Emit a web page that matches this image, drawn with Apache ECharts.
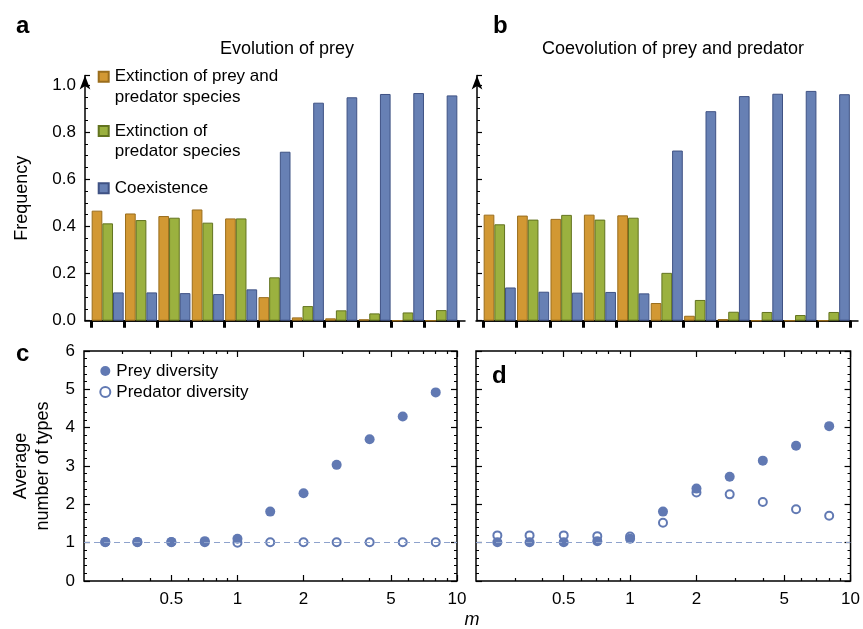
<!DOCTYPE html>
<html>
<head>
<meta charset="utf-8">
<title>Prey and predator evolution</title>
<script src="https://cdn.jsdelivr.net/npm/echarts@6/dist/echarts.min.js"></script>
</head>
<body style="margin:0">
<div id="main" style="width:863px;height:629px"></div>
<script type="text/javascript">
// mutation scale m (x positions, shared by all four panels)
var m = [0.25, 0.35, 0.5, 0.71, 1, 1.41, 2, 2.83, 4, 5.66, 8];
var majorM = [0.5, 1, 2, 5, 10];
var minorM = [0.3, 0.4, 0.6, 0.7, 0.8, 0.9, 3, 4, 6, 7, 8, 9];

// panel a: evolution of prey
var extBothA = [0.467, 0.455, 0.444, 0.472, 0.434, 0.100, 0.014, 0.010, 0.006, 0, 0];
var extPredA = [0.413, 0.427, 0.437, 0.416, 0.434, 0.184, 0.062, 0.044, 0.031, 0.035, 0.045];
var coexA    = [0.120, 0.120, 0.117, 0.113, 0.133, 0.717, 0.925, 0.948, 0.962, 0.966, 0.956];

// panel b: coevolution
var extBothB = [0.450, 0.446, 0.432, 0.450, 0.447, 0.075, 0.021, 0.007, 0, 0, 0];
var extPredB = [0.409, 0.429, 0.449, 0.429, 0.437, 0.203, 0.088, 0.038, 0.037, 0.024, 0.037];
var coexB    = [0.141, 0.123, 0.119, 0.122, 0.116, 0.722, 0.889, 0.953, 0.963, 0.975, 0.961];

// panels c, d: average number of types
var preyC = [1.02, 1.02, 1.02, 1.04, 1.10, 1.81, 2.29, 3.03, 3.70, 4.29, 4.92];
var predC = [1.01, 1.01, 1.01, 1.01, 1.00, 1.01, 1.01, 1.01, 1.01, 1.01, 1.01];
var preyD = [1.01, 1.01, 1.01, 1.04, 1.10, 1.81, 2.41, 2.72, 3.14, 3.53, 4.04];
var predD = [1.19, 1.19, 1.19, 1.17, 1.16, 1.52, 2.31, 2.26, 2.06, 1.87, 1.70];

var FONT = '"Liberation Sans", Arial, Helvetica, sans-serif';
var ORANGE = '#d29833', GREEN = '#9bb13f', BLUE = '#6780b4', PT = '#6179b3';
var NAMES = ['Extinction of prey and\npredator species', 'Extinction of\npredator species', 'Coexistence'];

var myChart = echarts.init(document.getElementById('main'));

function barAxis(grid) {
    return {
        type: 'category', gridIndex: grid, data: m.map(String), boundaryGap: true,
        axisLine: {lineStyle: {color: '#000', width: 1.5}},
        axisTick: {show: true, interval: 0, length: 7, lineStyle: {color: '#000', width: 3}},
        axisLabel: {show: false}, splitLine: {show: false}
    };
}
// plain baseline that runs a little past the bars on both sides
function baseLine(grid) {
    return {
        type: 'value', gridIndex: grid, min: 0, max: 1,
        axisLine: {lineStyle: {color: '#000', width: 1.5}},
        axisTick: {show: false}, axisLabel: {show: false}, splitLine: {show: false}
    };
}
function hiddenY(grid) {
    return {type: 'value', gridIndex: grid, show: false, min: 0, max: 1};
}
function freqAxis(grid, labels) {
    return {
        type: 'value', gridIndex: grid, min: 0, max: 1.04, interval: 0.2, offset: 6,
        axisLine: {show: true, symbol: ['none', 'arrow'], symbolSize: [8, 14], lineStyle: {color: '#000', width: 1.5}},
        axisTick: {show: true, inside: true, length: 5, lineStyle: {color: '#000', width: 1.2}},
        minorTick: {show: true, splitNumber: 4, length: 3, lineStyle: {color: '#000', width: 1}},
        axisLabel: {show: labels, showMaxLabel: false, fontSize: 17, color: '#000', fontFamily: FONT, margin: 9,
            formatter: function (v) { return v.toFixed(1); }},
        splitLine: {show: false},
        name: labels ? 'Frequency' : '', nameLocation: 'middle', nameGap: 54,
        nameTextStyle: {fontSize: 18, color: '#000', fontFamily: FONT}
    };
}
function logAxis(grid, pos, vals, len, labels) {
    return {
        type: 'log', logBase: 10, gridIndex: grid, position: pos, min: 0.2, max: 10,
        axisLine: {show: false},
        axisTick: {show: true, inside: true, length: len, customValues: vals, lineStyle: {color: '#000', width: 1.2}},
        axisLabel: {show: labels, customValues: vals, fontSize: 17, color: '#000', fontFamily: FONT, margin: 10,
            formatter: function (v) { return String(+(+v).toPrecision(3)); }},
        splitLine: {show: false}, minorTick: {show: false}
    };
}
function countAxis(grid, pos, labels, name) {
    return {
        type: 'value', gridIndex: grid, position: pos, min: 0, max: 6, interval: 1,
        axisLine: {show: false},
        axisTick: {show: true, inside: true, length: 6, lineStyle: {color: '#000', width: 1.2}},
        minorTick: {show: true, splitNumber: 5, length: 3, lineStyle: {color: '#000', width: 1}},
        axisLabel: {show: labels, fontSize: 17, color: '#000', fontFamily: FONT, margin: 9},
        splitLine: {show: false},
        name: name || '', nameLocation: 'middle', nameGap: 30,
        nameTextStyle: {fontSize: 18, lineHeight: 22, color: '#000', fontFamily: FONT}
    };
}
function bars(name, data, color, border, grid) {
    return {
        type: 'bar', name: name, xAxisIndex: grid, yAxisIndex: grid, data: data,
        barGap: '0%', barCategoryGap: '4%',
        itemStyle: {color: color, borderColor: border, borderWidth: 1}
    };
}
function dots(name, xs, ys, grid, filled) {
    var s = {
        type: 'scatter', name: name, xAxisIndex: grid === 2 ? 2 : 6, yAxisIndex: grid === 2 ? 2 : 4,
        data: xs.map(function (x, i) { return [x, ys[i]]; }),
        symbol: filled ? 'circle' : 'emptyCircle', symbolSize: filled ? 10 : 8,
        itemStyle: {color: PT, opacity: 1, borderWidth: filled ? 0 : 1}, z: filled ? 4 : 3
    };
    if (filled) {
        s.markLine = {silent: true, symbol: 'none', label: {show: false},
            lineStyle: {type: [6, 4], color: '#8ea2cc', width: 1}, data: [{yAxis: 1}]};
    }
    return s;
}
function legendBox(name, top, multi) {
    return {
        data: [name], left: 97.7, top: top, padding: 0, selectedMode: false,
        icon: 'rect', itemWidth: 10, itemHeight: 10,
        formatter: multi ? '\n{name}' : '{name}',
        textStyle: {fontSize: 17, lineHeight: 20.5, color: '#000', fontFamily: FONT, padding: [0, 0, 0, 1]}
    };
}
function label(text, left, top, size, extra) {
    var t = {text: text, left: left, top: top,
        textStyle: {fontSize: size, fontWeight: 'normal', color: '#000', fontFamily: FONT}};
    for (var k in extra) { t.textStyle[k] = extra[k]; }
    return t;
}

option = {
    animation: false,
    backgroundColor: '#fff',
    title: [
        label('a', 11, 9, 24, {fontWeight: 'bold'}),
        label('b', 488, 9, 24, {fontWeight: 'bold'}),
        label('c', 11, 337, 24, {fontWeight: 'bold'}),
        label('d', 487, 359, 24, {fontWeight: 'bold'}),
        Object.assign(label('Evolution of prey', 282, 35, 18), {textAlign: 'center'}),
        Object.assign(label('Coevolution of prey and predator', 668, 35, 18), {textAlign: 'center'}),
        Object.assign(label('m', 467, 606, 18, {fontStyle: 'italic'}), {textAlign: 'center'})
    ],
    legend: [
        legendBox(NAMES[0], 46, true),
        legendBox(NAMES[1], 100.3, true),
        legendBox(NAMES[2], 178, false),
        {
            data: ['Prey diversity', 'Predator diversity'], orient: 'vertical',
            left: 99.3, top: 361, padding: 0, itemGap: 1, selectedMode: false,
            itemWidth: 10, itemHeight: 10,
            textStyle: {fontSize: 17, lineHeight: 20, color: '#000', fontFamily: FONT, padding: [0, 0, 0, 1]}
        }
    ],
    grid: [
        {left: 91, top: 75.6, width: 367, height: 245.1},
        {left: 483, top: 75.6, width: 367.5, height: 245.1},
        {left: 84, top: 351, width: 373, height: 230, show: true, borderColor: '#000', borderWidth: 1.5},
        {left: 476, top: 351, width: 375, height: 230, show: true, borderColor: '#000', borderWidth: 1.5},
        {left: 85, top: 75.6, width: 380, height: 245.1},
        {left: 476, top: 75.6, width: 382, height: 245.1}
    ],
    xAxis: [
        barAxis(0), barAxis(1),
        logAxis(2, 'bottom', majorM, 6, true), logAxis(2, 'bottom', minorM, 3, false),
        logAxis(2, 'top', majorM, 6, false), logAxis(2, 'top', minorM, 3, false),
        logAxis(3, 'bottom', majorM, 6, true), logAxis(3, 'bottom', minorM, 3, false),
        logAxis(3, 'top', majorM, 6, false), logAxis(3, 'top', minorM, 3, false),
        baseLine(4), baseLine(5)
    ],
    yAxis: [
        freqAxis(0, true), freqAxis(1, false),
        countAxis(2, 'left', true, 'Average\nnumber of types'), countAxis(2, 'right', false),
        countAxis(3, 'left', false), countAxis(3, 'right', false),
        hiddenY(4), hiddenY(5)
    ],
    series: [
        bars(NAMES[0], extBothA, ORANGE, '#9a6d1c', 0),
        bars(NAMES[1], extPredA, GREEN, '#62731f', 0),
        bars(NAMES[2], coexA, BLUE, '#3f5284', 0),
        bars(NAMES[0], extBothB, ORANGE, '#9a6d1c', 1),
        bars(NAMES[1], extPredB, GREEN, '#62731f', 1),
        bars(NAMES[2], coexB, BLUE, '#3f5284', 1),
        dots('Predator diversity', m, predC, 2, false),
        dots('Prey diversity', m, preyC, 2, true),
        dots('Predator diversity', m, predD, 3, false),
        dots('Prey diversity', m, preyD, 3, true)
    ]
};

myChart.setOption(option);
</script>
</body>
</html>
